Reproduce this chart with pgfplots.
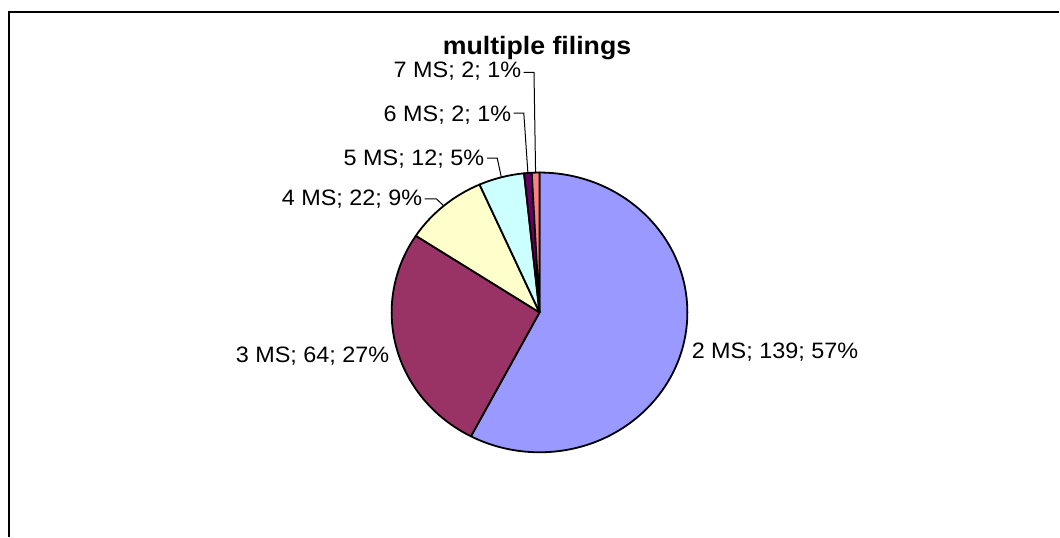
\documentclass[border=0pt]{standalone}
\usepackage{pgfplots}
\usepackage{pgfplotstable}
\pgfplotsset{compat=1.18}
\usepackage{fontspec}
\setmainfont{Liberation Sans}
\newfontfamily\lblfont[FakeStretch=1.05]{Liberation Sans}
\newfontfamily\ttlfont[FakeStretch=1.06]{Liberation Sans}

\definecolor{slice0}{HTML}{9999FF}
\definecolor{slice1}{HTML}{993366}
\definecolor{slice2}{HTML}{FFFFCC}
\definecolor{slice3}{HTML}{CCFFFF}
\definecolor{slice4}{HTML}{660066}
\definecolor{slice5}{HTML}{FF8080}

% number of multiple filings, clockwise from 12 o'clock
\pgfplotstableread{
name value
2 139
3 64
4 22
5 12
6 2
7 2
}\piedata

\begin{document}
\begin{tikzpicture}
% angles of the slices from the table
\pgfmathsetmacro{\pietotal}{0}
\pgfplotsforeachungrouped \i in {0,...,5}{%
  \pgfplotstablegetelem{\i}{value}\of\piedata
  \pgfmathsetmacro{\pietotal}{\pietotal+\pgfplotsretval}}
\def\pieacc{90}
\pgfplotsforeachungrouped \i in {0,...,5}{%
  \pgfplotstablegetelem{\i}{value}\of\piedata
  \pgfmathsetmacro{\pieend}{\pieacc-(\pgfplotsretval/\pietotal)*360}
  \pgfmathsetmacro{\piemid}{(\pieacc+\pieend)/2}
  \expandafter\xdef\csname ps\i\endcsname{\pieacc}
  \expandafter\xdef\csname pe\i\endcsname{\pieend}
  \expandafter\xdef\csname pm\i\endcsname{\piemid}
  \global\let\pieacc\pieend}
\begin{axis}[
  width=530pt, height=268.5pt, scale only axis,
  xmin=0, xmax=1060, ymin=0, ymax=537,
  hide axis, clip=false,
]
\path (axis cs:0,0) rectangle (axis cs:1060,537);
% frame
\draw[line width=1pt] (axis cs:9,0) -- (axis cs:9,525) -- (axis cs:1060,525);
% wedges
\pgfplotsinvokeforeach{0,...,5}{
  \filldraw[fill=slice#1, draw=black, line width=0.9pt, line join=round]
    (axis cs:540,224.3) -- ++(\csname ps#1\endcsname:74pt and 70pt)
    arc[start angle=\csname ps#1\endcsname, end angle=\csname pe#1\endcsname,
        x radius=74pt, y radius=70pt] -- cycle;
}
% leader lines
\draw[line width=0.5pt] (axis cs:524,464.5) -- (axis cs:534.5,464.5)
  -- ([shift={(\csname pm5\endcsname:74pt and 70pt)}]axis cs:540,224.3);
\draw[line width=0.5pt] (axis cs:514,423.7) -- (axis cs:524.3,423.7)
  -- ([shift={(\csname pm4\endcsname:74pt and 70pt)}]axis cs:540,224.3);
\draw[line width=0.5pt] (axis cs:487.5,378.7) -- (axis cs:497.7,378.7)
  -- ([shift={(\csname pm3\endcsname:74pt and 70pt)}]axis cs:540,224.3);
\draw[line width=0.5pt] (axis cs:425,338) -- (axis cs:436.7,338)
  -- ([shift={(\csname pm2\endcsname:74pt and 70pt)}]axis cs:540,224.3);
% labels
\begin{scope}[every node/.style={inner sep=0pt, font=\lblfont\fontsize{11.15}{13}\selectfont}]
\node[anchor=base east] at (axis cs:522,459) {7 MS; 2; 1\%};
\node[anchor=base east] at (axis cs:512,415) {6 MS; 2; 1\%};
\node[anchor=base east] at (axis cs:485,371.7) {5 MS; 12; 5\%};
\node[anchor=base east] at (axis cs:423,331) {4 MS; 22; 9\%};
\node[anchor=base east] at (axis cs:390,174) {3 MS; 64; 27\%};
\node[anchor=base west] at (axis cs:692,178) {2 MS; 139; 57\%};
\end{scope}
\node[anchor=base, inner sep=0pt, font=\ttlfont\fontsize{12.6}{15}\selectfont\bfseries]
  at (axis cs:537.5,482) {multiple filings};
\end{axis}
\end{tikzpicture}
\end{document}
